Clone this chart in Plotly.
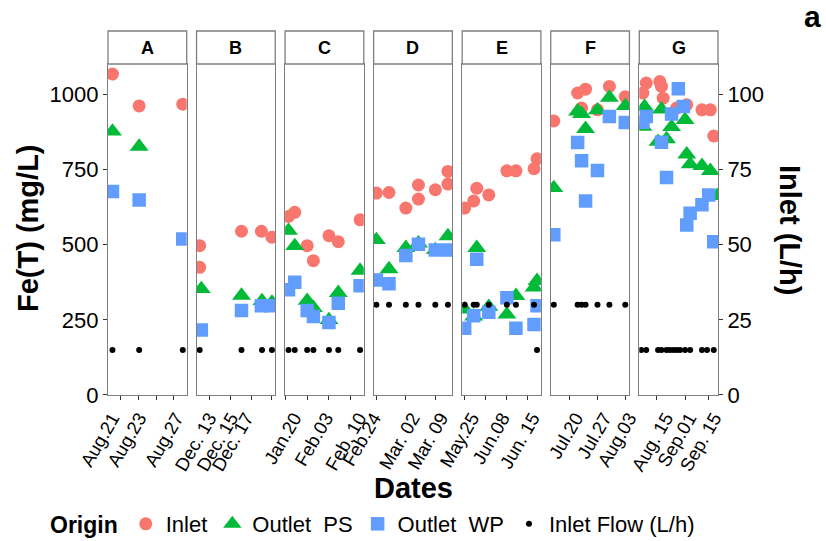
import plotly.graph_objects as go

# ---------------- data ----------------
panels = ["A", "B", "C", "D", "E", "F", "G"]

# x = sampling day offset inside each facet (free x scale per facet)
x_ranges = [[0, 4.42], [0, 3.80], [-0.1, 25.2], [-0.65, 18.05],
            [-0.83, 25.28], [-4.77, 15.05], [-10.14, 36.51]]
tick_days = [[0.70, 1.72, 2.72, 3.69], [0.64, 1.65, 2.65, 3.64], [0, 7, 14, 21],
             [0, 7, 14], [0, 7, 14, 21], [0, 7, 14], [0, 17, 31]]
label_days = [[0.24, 1.75, 3.83], [0.61, 1.66, 2.39], [2.83, 13.0, 23.7],
              [-0.62, 8.57, 15.3], [2.39, 12.54, 22.5], [1.56, 8.69, 15.0],
              [5.63, 19.4, 34.3]]
date_labels = [["Aug.21", "Aug.23", "Aug.27"],
               ["Dec. 13", "Dec. 15", "Dec. 17"],
               ["Jan.20", "Feb.03", "Feb. 10"],
               ["Feb.24", "Mar. 02", "Mar. 09"],
               ["May.25", "Jun.08", "Jun. 15"],
               ["Jul.20", "Jul.27", "Aug.03"],
               ["Aug. 15", "Sep.01", "Sep. 15"]]

inlet_x = [[0.25, 1.75, 4.2],
           [0.15, 0.15, 2.17, 3.13, 3.64],
           [1, 3, 7, 9, 14, 17, 24],
           [0, 3, 7, 10, 10, 14, 17, 17],
           [0, 3, 4, 8, 14, 17, 23, 24],
           [-4, 2, 3, 4, 7, 10, 14],
           [-8, -6, 2, 3, 4, 12, 18, 27, 32, 34]]
inlet_y = [[1068, 962, 968],
           [497, 425, 545, 545, 525],
           [594, 608, 497, 447, 530, 510, 583],
           [672, 674, 622, 699, 652, 683, 744, 702],
           [622, 646, 688, 666, 746, 746, 753, 786],
           [912, 1005, 955, 1018, 949, 1027, 993],
           [1005, 1038, 1043, 1027, 988, 955, 966, 949, 949, 862]]

ps_x = [[0.25, 1.75],
        [0.23, 2.17, 3.16, 3.64],
        [1, 3, 7, 9, 14, 17, 24],
        [0, 3, 7, 10, 14, 17],
        [0, 3, 4, 8, 14, 17, 23, 24],
        [-4, 2, 3, 4, 7, 10, 14],
        [-8, -7, 1, 3, 6, 9, 17, 18, 20, 27, 32, 36]]
ps_y = [[877, 827],
        [353, 331, 313, 308],
        [547, 496, 314, 290, 250, 340, 414],
        [516, 419, 490, 505, 483, 529],
        [285, 262, 490, 294, 268, 330, 358, 380],
        [689, 944, 936, 886, 948, 990, 962],
        [893, 959, 843, 951, 852, 892, 916, 801, 768, 763, 746, 663]]

wp_x = [[0.25, 1.75, 4.2],
        [0.23, 2.17, 3.13, 3.57],
        [1, 3, 7, 9, 14, 17, 24],
        [0, 3, 7, 10, 14, 17],
        [0, 3, 4, 8, 14, 17, 23, 24],
        [-4, 2, 3, 4, 7, 10, 14],
        [-8, -6, 3, 6, 9, 13, 16, 18, 20, 27, 31, 34]]
wp_y = [[677, 649, 519],
        [216, 281, 297, 297],
        [350, 375, 281, 261, 241, 305, 364],
        [383, 370, 464, 502, 483, 483],
        [222, 264, 452, 275, 324, 222, 235, 297],
        [533, 840, 780, 646, 747, 927, 907],
        [908, 927, 841, 724, 935, 1019, 960, 566, 605, 633, 666, 510]]

flow_x = [[0.25, 1.75, 4.2],
          [0.15, 2.17, 3.16, 3.64],
          [1, 3, 7, 9, 14, 17, 24],
          [0, 3, 7, 10, 14, 17],
          [0, 3, 4, 8, 14, 17, 23, 24],
          [-4, 2, 3, 4, 7, 10, 14],
          [-9, -6, 1, 3, 6, 8, 10, 12, 14, 17, 20, 27, 30, 34]]
flow_y = [[15, 15, 15],
          [15, 15, 15, 15],
          [15, 15, 15, 15, 15, 15, 15],
          [30, 30, 30, 30, 30, 30],
          [30, 30, 30, 30, 30, 30, 30, 15],
          [30, 30, 30, 30, 30, 30, 30],
          [15] * 14]

fe_ticks = [0, 250, 500, 750, 1000]
flow_ticks = [0, 25, 50, 75, 100]

# ---------------- styling ----------------
FONT = "Liberation Sans, Arial, Helvetica, sans-serif"
BORDER = "#7f7f7f"
TICKC = "#333333"
C_IN, C_PS, C_WP = "#F8766D", "#00BA38", "#619CFF"
W, STEP = 0.12902, 0.14516
YTOP = 0.908
STRIP0 = 0.9093
FE_MAX = 1100
FLOW_MAX = 110
ML, MR, MT, MB = 108, 108, 31, 146
PW, PH = 826 - ML - MR, 541 - MT - MB


def px_x(px):
    return (px - ML) / PW


def px_y(py):
    return (541 - MB - py) / PH


fig = go.Figure()
layout = dict(
    width=826, height=541,
    margin=dict(l=ML, r=MR, t=MT, b=MB),
    paper_bgcolor="white", plot_bgcolor="white",
    font=dict(family=FONT, color="black"),
    shapes=[], annotations=[],
)

for i in range(7):
    n = i + 1
    xs = "x" if n == 1 else f"x{n}"
    ys = "y" if n == 1 else f"y{n}"
    x2 = f"x{8 + i}"
    y2 = f"y{8 + i}"
    show = (i == 0)
    fig.add_trace(go.Scatter(x=inlet_x[i], y=inlet_y[i], mode="markers", name="Inlet",
                             legendgroup="in", showlegend=show, xaxis=xs, yaxis=ys,
                             marker=dict(symbol="circle", size=13, color=C_IN)))
    fig.add_trace(go.Scatter(x=ps_x[i], y=ps_y[i], mode="markers",
                             name="Outlet\u00a0\u00a0PS", legendgroup="ps", showlegend=show,
                             xaxis=xs, yaxis=ys,
                             marker=dict(symbol="triangle-up", size=16.5, color=C_PS)))
    fig.add_trace(go.Scatter(x=wp_x[i], y=wp_y[i], mode="markers",
                             name="Outlet\u00a0\u00a0WP", legendgroup="wp", showlegend=show,
                             xaxis=xs, yaxis=ys,
                             marker=dict(symbol="square", size=13.5, color=C_WP)))
    fig.add_trace(go.Scatter(x=flow_x[i], y=flow_y[i], mode="markers",
                             name="Inlet Flow (L/h)", legendgroup="fl", showlegend=show,
                             xaxis=x2, yaxis=y2,
                             marker=dict(symbol="circle", size=6, color="black")))

    d0 = i * STEP
    dom = [d0, d0 + W]
    xkey = "xaxis" if n == 1 else f"xaxis{n}"
    ykey = "yaxis" if n == 1 else f"yaxis{n}"
    layout[xkey] = dict(domain=dom, range=x_ranges[i], anchor=ys,
                        tickmode="array", tickvals=tick_days[i], showticklabels=False,
                        ticks="outside", ticklen=4, tickwidth=1.2, tickcolor=TICKC,
                        showline=True, mirror=True, linecolor=BORDER, linewidth=1.3,
                        showgrid=False, zeroline=False)
    layout[f"xaxis{8 + i}"] = dict(overlaying=xs, anchor=ys, range=x_ranges[i],
                                   tickmode="array", tickvals=label_days[i],
                                   ticktext=date_labels[i], tickangle=-60,
                                   ticks="outside", ticklen=4, tickcolor="rgba(0,0,0,0)",
                                   tickfont=dict(size=18.5, color="black"),
                                   showline=False, showgrid=False, zeroline=False)
    yax = dict(domain=[0, YTOP], range=[0, FE_MAX], anchor=xs,
               showline=True, mirror=True, linecolor=BORDER, linewidth=1.3,
               showgrid=False, zeroline=False)
    if i == 0:
        yax.update(tickmode="array", tickvals=fe_ticks, ticks="outside", ticklen=4,
                   tickwidth=1.2, tickcolor=TICKC, tickfont=dict(size=22, color="black"))
    else:
        yax.update(showticklabels=False, ticks="")
    layout[ykey] = yax
    y2ax = dict(overlaying=ys, anchor=xs, range=[0, FLOW_MAX], side="right",
                showgrid=False, zeroline=False, showline=False)
    if i == 6:
        y2ax.update(tickmode="array", tickvals=flow_ticks, ticks="outside", ticklen=4,
                    tickwidth=1.2, tickcolor=TICKC, tickfont=dict(size=22, color="black"))
    else:
        y2ax.update(showticklabels=False, ticks="")
    layout[f"yaxis{8 + i}"] = y2ax

    layout["shapes"].append(dict(type="rect", xref="paper", yref="paper",
                                 x0=dom[0], x1=dom[1], y0=STRIP0, y1=1.0,
                                 fillcolor="white", line=dict(color=BORDER, width=1.3)))
    layout["annotations"].append(dict(text=f"<b>{panels[i]}</b>", xref="paper", yref="paper",
                                      x=(dom[0] + dom[1]) / 2, y=(STRIP0 + 1) / 2,
                                      xanchor="center", yanchor="middle", showarrow=False,
                                      font=dict(size=18, color="black")))

layout["annotations"] += [
    dict(text="<b>Dates</b>", xref="paper", yref="paper", x=0.5, y=px_y(488),
         xanchor="center", yanchor="middle", showarrow=False, font=dict(size=29)),
    dict(text="<b>Fe(T) (mg/L)</b>", xref="paper", yref="paper", x=px_x(28), y=px_y(228),
         xanchor="center", yanchor="middle", textangle=-90, showarrow=False,
         font=dict(size=29)),
    dict(text="<b>Inlet (L/h)</b>", xref="paper", yref="paper", x=px_x(790), y=px_y(230),
         xanchor="center", yanchor="middle", textangle=90, showarrow=False,
         font=dict(size=29)),
    dict(text="<b>a</b>", xref="paper", yref="paper", x=px_x(812), y=px_y(17),
         xanchor="center", yanchor="middle", showarrow=False, font=dict(size=30)),
]

layout["legend"] = dict(orientation="h", xref="container", yref="container",
                        x=48 / 826, xanchor="left", y=(541 - 524) / 541,
                        yanchor="middle", font=dict(size=22),
                        title=dict(text="<b>Origin</b>", font=dict(size=23)),
                        bgcolor="rgba(0,0,0,0)")

fig.update_layout(**layout)
fig.write_html("out.html")
